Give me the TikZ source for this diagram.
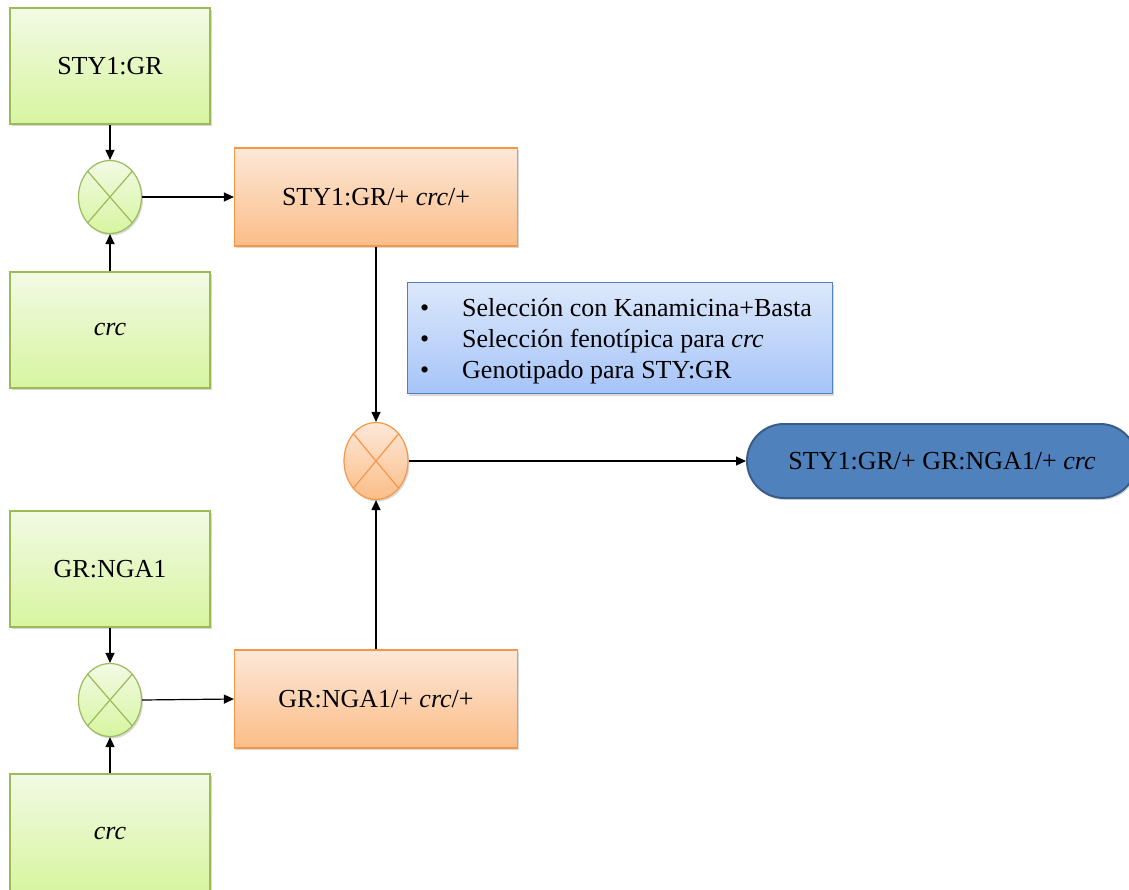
\documentclass[tikz,border=0pt]{standalone}
\usepackage{fontspec}
\setmainfont{Liberation Serif}
\newfontfamily\tnr{Liberation Serif}
\usetikzlibrary{shapes.geometric,shadows,arrows.meta}
\definecolor{gB}{HTML}{9BBB59}
\definecolor{gT}{HTML}{F2FAE4}
\definecolor{gD}{HTML}{D7F5A0}
\definecolor{oB}{HTML}{F79646}
\definecolor{oT}{HTML}{FDE8D8}
\definecolor{oD}{HTML}{FBBD88}
\definecolor{bB}{HTML}{4F81BD}
\definecolor{bT}{HTML}{DCE8FB}
\definecolor{bD}{HTML}{A6C4F8}
\definecolor{eF}{HTML}{4F81BD}
\definecolor{eB}{HTML}{385D8A}
\tikzset{
  txt/.style={font=\tnr\fontsize{26}{31}\selectfont},
  shad/.style={drop shadow={shadow xshift=1.5pt,shadow yshift=-2pt,opacity=0.25,fill=black!60}},
  greenbox/.style={draw=gB,line width=1.2pt,top color=gT,bottom color=gD,minimum width=200pt,minimum height=116pt,shad,txt},
  orangebox/.style={draw=oB,line width=1.2pt,top color=oT,bottom color=oD,minimum width=283pt,minimum height=98pt,shad,txt},
  gcross/.style={ellipse,draw=gB,line width=1.2pt,top color=gT,bottom color=gD,minimum width=63pt,minimum height=73pt,inner sep=0pt,shad},
  ocross/.style={ellipse,draw=oB,line width=1.2pt,top color=oT,bottom color=oD,minimum width=64pt,minimum height=77pt,inner sep=0pt,shad},
  arr/.style={-{Triangle[length=10pt,width=9pt]},line width=1.2pt,black}
}
\newcommand{\xmark}[2]{\draw[#2,line width=1.2pt] (#1.north east) -- (#1.south west) (#1.north west) -- (#1.south east);}
\begin{document}
\begin{tikzpicture}[x=1pt,y=-1pt]
\useasboundingbox (0,0) rectangle (1129,890);
% green boxes
\node[greenbox] (a1) at (110,66) {STY1:GR};
\node[greenbox] (a2) at (110,330) {\textit{crc}};
\node[greenbox] (b1) at (110,569) {GR:NGA1};
\node[greenbox,minimum height=118pt] (b2) at (110,833) {\textit{crc}};
% cross circles
\node[gcross] (c1) at (110,197) {};
\xmark{c1}{gB}
\node[gcross] (c2) at (110,700) {};
\xmark{c2}{gB}
% orange boxes
\node[orangebox] (o1) at (376,197) {STY1:GR/+ \textit{crc}/+};
\node[orangebox] (o2) at (376,699) {GR:NGA1/+ \textit{crc}/+};
\node[ocross] (c3) at (376,461) {};
\xmark{c3}{oB}
% blue list box
\node[draw=bB,line width=1.2pt,top color=bT,bottom color=bD,minimum width=425pt,minimum height=111pt,shad,anchor=north west,inner sep=0pt] (list) at (407,282) {};
\node[anchor=west,txt,align=left,inner sep=0pt] (ltxt) at (420,341) {%
\makebox[42pt][l]{•}Selección con Kanamicina+Basta\\
\makebox[42pt][l]{•}Selección fenotípica para \textit{crc}\\
\makebox[42pt][l]{•}Genotipado para STY:GR};
% result
\node[draw=eB,line width=2pt,fill=eF,rounded corners=37pt,minimum width=390pt,minimum height=74pt,anchor=west,shad,txt,text=black] (res) at (746,461) {STY1:GR/+ GR:NGA1/+ \textit{crc}};
% arrows
\draw[arr] (a1.south) -- (c1.north);
\draw[arr] (a2.north) -- (c1.south);
\draw[arr] (c1.east) -- (o1.west);
\draw[arr] (b1.south) -- (c2.north);
\draw[arr] (b2.north) -- (c2.south);
\draw[arr] (c2.east) -- (o2.west);
\draw[arr] (o1.south) -- (c3.north);
\draw[arr] (o2.north) -- (c3.south);
\draw[arr] (c3.east) -- (res.west);
\end{tikzpicture}
\end{document}
